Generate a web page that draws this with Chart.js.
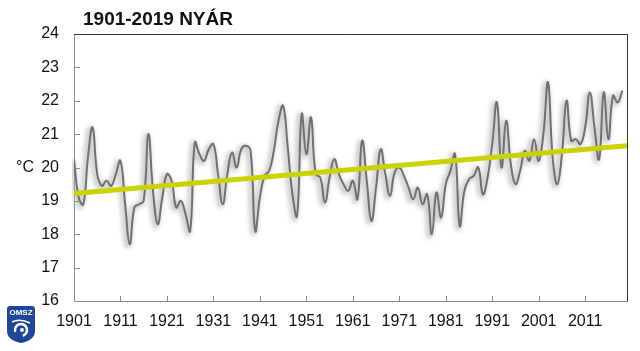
<!DOCTYPE html>
<html>
<head>
<meta charset="utf-8">
<title>1901-2019 NYÁR</title>
<script src="https://cdn.jsdelivr.net/npm/chart.js@4/dist/chart.umd.min.js"></script>
<style>
    html, body { margin: 0; padding: 0; background: #fff; }
    #wrap { width: 640px; height: 351px; }
</style>
</head>
<body>
<div id="wrap"><canvas id="summerChart" width="640" height="351"></canvas></div>
<script>
const chartTitle = "1901-2019 NYÁR";
const unitLabel = "°C";
const firstYear = 1901;

// nyári középhőmérséklet, 1901-től évente
const summerTemps = [
    20.25, 19.1, 18.9, 20.3, 21.2, 19.8, 19.45, 19.6, 19.45, 19.8,
    20.2, 18.9, 17.7, 18.8, 18.9, 19.0, 21.0, 19.3, 18.3, 19.1,
    19.8, 19.6, 18.8, 19.0, 18.6, 18.1, 20.75, 20.4, 20.2, 20.55,
    20.7, 19.8, 18.9, 19.8, 20.45, 20.0, 20.55, 20.65, 20.5, 18.1,
    19.1, 19.75, 19.9, 20.5, 21.4, 21.85, 20.6, 19.2, 18.55, 21.6,
    20.4, 21.5, 19.8, 19.7, 18.95, 19.7, 20.25, 19.8, 19.5, 19.3,
    19.6, 19.05, 20.8, 19.6, 18.4, 19.4, 20.55, 19.8, 19.15, 19.85,
    20.0, 19.75, 19.4, 19.05, 19.4, 18.9, 19.2, 18.0, 19.25, 18.5,
    19.5, 19.9, 20.4, 18.25, 19.3, 19.65, 19.75, 20.0, 19.2, 19.7,
    20.7, 21.95, 20.0, 21.4, 20.1, 19.5, 19.9, 20.5, 20.2, 20.85,
    20.2, 21.0, 22.55, 20.3, 19.5, 20.4, 22.0, 20.8, 20.85, 20.7,
    21.2, 22.25, 21.2, 20.25, 22.25, 20.85, 22.15, 21.95, 22.3
];

// lineáris trend két végpontja
const trendYears = [1901, 2020];
const trendTemps = [19.22, 20.65];

const xTickYears = [1901, 1911, 1921, 1931, 1941, 1951, 1961, 1971, 1981, 1991, 2001, 2011];
const xMin = 1901;
const xMax = 2020;
const yMin = 16;
const yMax = 24;

const FONT = "'Liberation Sans', Arial, sans-serif";

document.addEventListener("DOMContentLoaded", () => {
    renderChart();
});

// a görbe mögötti elmosott szürke sáv
const haloPlugin = {
    id: "halo",
    beforeDatasetDraw(chart, args) {
        if (args.meta._dataset.halo) {
            const ctx = chart.ctx;
            ctx.save();
            ctx.filter = "blur(2px)";
            ctx.translate(-2, 1.5);
        }
    },
    afterDatasetDraw(chart, args) {
        if (args.meta._dataset.halo) {
            chart.ctx.restore();
        }
    }
};

const framePlugin = {
    id: "frame",
    afterDraw(chart) {
        const { ctx, chartArea: a, scales } = chart;
        ctx.save();

        // befelé álló osztások
        ctx.strokeStyle = "#8c8c8c";
        ctx.lineWidth = 1;
        scales.y.ticks.forEach(t => {
            const y = Math.round(scales.y.getPixelForValue(t.value)) + 0.5;
            ctx.beginPath();
            ctx.moveTo(a.left, y);
            ctx.lineTo(a.left + 6, y);
            ctx.stroke();
        });
        scales.x.ticks.forEach(t => {
            const x = Math.round(scales.x.getPixelForValue(t.value)) + 0.5;
            ctx.beginPath();
            ctx.moveTo(x, a.bottom);
            ctx.lineTo(x, a.bottom - 5);
            ctx.stroke();
        });

        // felső és jobb keret
        ctx.strokeStyle = "#333";
        ctx.beginPath();
        ctx.moveTo(a.left, Math.round(a.top) + 0.5);
        ctx.lineTo(Math.round(a.right) + 0.5, Math.round(a.top) + 0.5);
        ctx.lineTo(Math.round(a.right) + 0.5, a.bottom);
        ctx.stroke();

        // cím
        ctx.fillStyle = "#111";
        ctx.font = "bold 19px " + FONT;
        ctx.textAlign = "left";
        ctx.textBaseline = "middle";
        ctx.fillText(chartTitle, 83, 20);

        // mértékegység
        ctx.font = "16px " + FONT;
        ctx.fillText(unitLabel, 16, scales.y.getPixelForValue(20));

        drawLogo(ctx);
        ctx.restore();
    }
};

function drawLogo(ctx) {
    ctx.save();
    ctx.fillStyle = "#1f4797";
    ctx.beginPath();
    ctx.moveTo(10, 306);
    ctx.lineTo(32, 306);
    ctx.quadraticCurveTo(35, 306, 35, 309);
    ctx.lineTo(35, 331);
    ctx.quadraticCurveTo(35, 340, 21, 343);
    ctx.quadraticCurveTo(7, 340, 7, 331);
    ctx.lineTo(7, 309);
    ctx.quadraticCurveTo(7, 306, 10, 306);
    ctx.closePath();
    ctx.fill();

    ctx.fillStyle = "#fff";
    ctx.font = "bold 8px " + FONT;
    ctx.textAlign = "center";
    ctx.textBaseline = "middle";
    ctx.fillText("OMSZ", 21, 313);

    ctx.strokeStyle = "#fff";
    ctx.lineWidth = 2.5;
    ctx.beginPath();
    ctx.arc(21, 330, 6, Math.PI * 0.9, Math.PI * 2.4);
    ctx.stroke();
    ctx.beginPath();
    ctx.arc(22, 330, 2, 0, Math.PI * 2);
    ctx.fill();
    ctx.lineWidth = 1.5;
    ctx.beginPath();
    ctx.moveTo(12, 322);
    ctx.quadraticCurveTo(20, 318, 30, 323);
    ctx.stroke();
    ctx.restore();
}

function renderChart() {
    const ctx = document.getElementById("summerChart").getContext("2d");

    const tempPoints = summerTemps.map((t, i) => ({ x: firstYear + i, y: t }));
    const trendPoints = trendYears.map((yr, i) => ({ x: yr, y: trendTemps[i] }));

    new Chart(ctx, {
        type: "line",
        data: {
            datasets: [
                {
                    label: "Trend",
                    data: trendPoints,
                    borderColor: "#c8d300",
                    borderWidth: 5,
                    pointRadius: 0,
                    fill: false,
                    order: 0
                },
                {
                    label: "Nyár",
                    data: tempPoints,
                    borderColor: "#707070",
                    borderWidth: 2,
                    pointRadius: 0,
                    tension: 0.45,
                    fill: false,
                    order: 1
                },
                {
                    label: "Árnyék",
                    data: tempPoints,
                    borderColor: "rgba(170, 170, 170, 0.55)",
                    borderWidth: 6,
                    pointRadius: 0,
                    tension: 0.45,
                    fill: false,
                    halo: true,
                    order: 2
                }
            ]
        },
        options: {
            responsive: false,
            animation: false,
            events: [],
            layout: {
                padding: { top: 34, right: 13, left: 0, bottom: 0 }
            },
            plugins: {
                legend: { display: false },
                tooltip: { enabled: false },
                title: { display: false }
            },
            scales: {
                x: {
                    type: "linear",
                    min: xMin,
                    max: xMax,
                    afterBuildTicks: scale => {
                        scale.ticks = xTickYears.map(v => ({ value: v }));
                    },
                    afterFit: scale => { scale.height = 50; },
                    grid: { drawOnChartArea: false, drawTicks: false },
                    border: { color: "#8c8c8c", width: 1 },
                    ticks: {
                        padding: 11,
                        maxRotation: 0,
                        autoSkip: false,
                        color: "#111",
                        font: { family: FONT, size: 16 },
                        callback: v => String(v)
                    }
                },
                y: {
                    min: yMin,
                    max: yMax,
                    afterFit: scale => { scale.width = 74; },
                    grid: { drawOnChartArea: false, drawTicks: false },
                    border: { color: "#8c8c8c", width: 1 },
                    ticks: {
                        stepSize: 1,
                        padding: 15,
                        color: "#111",
                        font: { family: FONT, size: 16 }
                    }
                }
            }
        },
        plugins: [haloPlugin, framePlugin]
    });
}
</script>
</body>
</html>
